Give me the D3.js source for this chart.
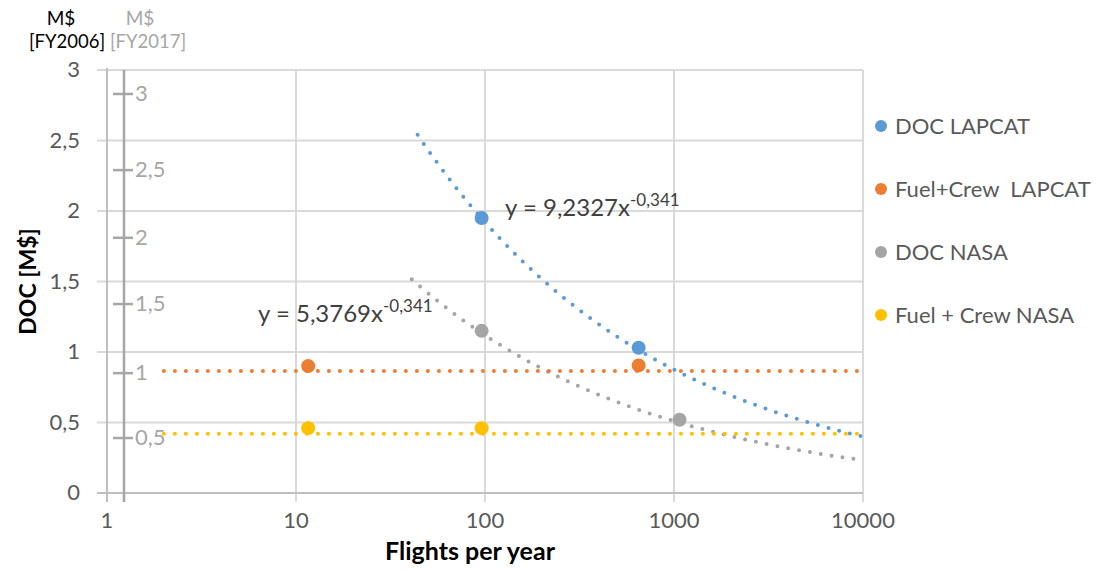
<!DOCTYPE html>
<html>
<head>
    <script src="https://cdn.jsdelivr.net/npm/d3@7"></script>
    <style>
        body { margin: 0; background: #fff; }
        svg { font-family: Lato, "Open Sans", sans-serif; }
    </style>
</head>
<body>
<svg id="chart" width="1099" height="571"></svg>
<script>
// series: flights per year (x) and DOC in M$ FY2006 (y)
const series = ["DOC LAPCAT", "Fuel+Crew  LAPCAT", "DOC NASA", "Fuel + Crew NASA"];
const colors = ["#5b9bd5", "#ed7d31", "#a5a5a5", "#ffc000"];
const docLapcatX = [96, 650];
const docLapcatY = [1.95, 1.03];
const fuelLapcatX = [11.6, 650];
const fuelLapcatY = [0.90, 0.905];
const docNasaX = [96, 1070];
const docNasaY = [1.15, 0.52];
const fuelNasaX = [11.6, 96];
const fuelNasaY = [0.46, 0.46];

// trendlines: power fits (coef, exponent, from x) and flat lines (level, from x)
const powerFits = [
    {s: 0, coef: 9.2327, exp: -0.341, from: 44, label: "y = 9,2327x", sup: "-0,341"},
    {s: 2, coef: 5.3769, exp: -0.341, from: 41, label: "y = 5,3769x", sup: "-0,341"}
];
const flatFits = [
    {s: 1, level: 0.865, from: 2},
    {s: 3, level: 0.42, from: 2}
];

const xTicks = [1, 10, 100, 1000, 10000];
const yTicks = [0, 0.5, 1, 1.5, 2, 2.5, 3];
// secondary FY2017 axis: labels and where they sit on the FY2006 scale
const secLabels = ["0,5", "1", "1,5", "2", "2,5", "3"];
const secAt = [0.39, 0.85, 1.34, 1.81, 2.29, 2.83];

const svg = d3.select("#chart");
const x = d3.scaleLog().domain([1, 10000]).range([107, 863]);
const y = d3.scaleLinear().domain([0, 3]).range([493, 70]);
const fmt = d => String(d).replace(".", ",");
const textColor = "#595959";

// grid
svg.append("g").selectAll("line").data(yTicks).enter().append("line")
    .attr("x1", 97).attr("x2", 863)
    .attr("y1", d => y(d)).attr("y2", d => y(d))
    .attr("stroke", "#d9d9d9").attr("stroke-width", 2);
svg.append("g").selectAll("line").data(xTicks.slice(1)).enter().append("line")
    .attr("x1", d => x(d)).attr("x2", d => x(d))
    .attr("y1", y(3)).attr("y2", 502)
    .attr("stroke", "#d9d9d9").attr("stroke-width", 2);

// axis lines
svg.append("line").attr("x1", 97).attr("x2", 863).attr("y1", y(0)).attr("y2", y(0))
    .attr("stroke", "#bfbfbf").attr("stroke-width", 2);
svg.append("line").attr("x1", x(1)).attr("x2", x(1)).attr("y1", y(3) - 2).attr("y2", 502)
    .attr("stroke", "#bfbfbf").attr("stroke-width", 2);

// primary y labels
svg.append("g").selectAll("text").data(yTicks).enter().append("text")
    .attr("x", 80).attr("y", d => y(d) + 7)
    .attr("text-anchor", "end").attr("font-size", 22).attr("fill", textColor)
    .text(fmt);

// x labels
svg.append("g").selectAll("text").data(xTicks).enter().append("text")
    .attr("x", d => x(d)).attr("y", 528)
    .attr("text-anchor", "middle").attr("font-size", 22).attr("fill", textColor)
    .text(d => d);

// secondary axis
svg.append("line").attr("x1", 124).attr("x2", 124).attr("y1", y(3)).attr("y2", 502)
    .attr("stroke", "#a6a6a6").attr("stroke-width", 2.5);
svg.append("g").selectAll("line").data(secAt).enter().append("line")
    .attr("x1", 113).attr("x2", 133)
    .attr("y1", d => y(d)).attr("y2", d => y(d))
    .attr("stroke", "#a6a6a6").attr("stroke-width", 2.5);
svg.append("g").selectAll("text").data(secAt).enter().append("text")
    .attr("x", 135).attr("y", d => y(d) + 7)
    .attr("font-size", 22).attr("fill", "#a6a6a6")
    .text((d, i) => secLabels[i]);

// units at top
svg.append("text").attr("x", 61).attr("y", 25).attr("text-anchor", "middle")
    .attr("font-size", 19).attr("fill", "#000").text("M$");
svg.append("text").attr("x", 67).attr("y", 48).attr("text-anchor", "middle")
    .attr("font-size", 18.5).attr("fill", "#000").text("[FY2006]");
svg.append("text").attr("x", 140).attr("y", 25).attr("text-anchor", "middle")
    .attr("font-size", 19).attr("fill", "#a6a6a6").text("M$");
svg.append("text").attr("x", 148).attr("y", 48).attr("text-anchor", "middle")
    .attr("font-size", 18.5).attr("fill", "#a6a6a6").text("[FY2017]");

// axis titles
svg.append("text").attr("transform", "translate(36," + y(1.5) + ") rotate(-90)")
    .attr("text-anchor", "middle").attr("font-size", 23).attr("font-weight", "bold")
    .attr("fill", "#000").text("DOC [M$]");
svg.append("text").attr("x", 470).attr("y", 560).attr("text-anchor", "middle")
    .attr("font-size", 25).attr("font-weight", "bold").attr("fill", "#000")
    .text("Flights per year");

// trendlines
const line = d3.line().x(d => x(d[0])).y(d => y(d[1]));
powerFits.forEach(f => {
    const xs = d3.range(0, 201).map(i => f.from * Math.pow(10000 / f.from, i / 200));
    svg.append("path").datum(xs.map(v => [v, f.coef * Math.pow(v, f.exp)]))
        .attr("d", line).attr("fill", "none")
        .attr("stroke", colors[f.s]).attr("stroke-width", 4)
        .attr("stroke-linecap", "round").attr("stroke-dasharray", "0 11");
});
flatFits.forEach(f => {
    svg.append("path").datum([[f.from, f.level], [10000, f.level]])
        .attr("d", line).attr("fill", "none")
        .attr("stroke", colors[f.s]).attr("stroke-width", 4)
        .attr("stroke-linecap", "round").attr("stroke-dasharray", "0 11");
});

// points
const pts = [
    [docLapcatX, docLapcatY], [fuelLapcatX, fuelLapcatY],
    [docNasaX, docNasaY], [fuelNasaX, fuelNasaY]
];
pts.forEach((p, s) => {
    svg.append("g").selectAll("circle").data(p[0]).enter().append("circle")
        .attr("cx", d => x(d)).attr("cy", (d, i) => y(p[1][i]))
        .attr("r", 7).attr("fill", colors[s]);
});

// equation labels
const eqPos = [[505, 216], [258, 322]];
powerFits.forEach((f, i) => {
    const t = svg.append("text").attr("x", eqPos[i][0]).attr("y", eqPos[i][1])
        .attr("font-size", 24).attr("fill", "#404040");
    t.append("tspan").text(f.label);
    t.append("tspan").attr("dy", -10).attr("font-size", 17).text(f.sup);
});

// legend
const lg = svg.append("g").selectAll("g").data(series).enter().append("g")
    .attr("transform", (d, i) => "translate(881," + (126 + i * 63) + ")");
lg.append("circle").attr("r", 6).attr("fill", (d, i) => colors[i]);
lg.append("text").attr("x", 14).attr("y", 8).attr("font-size", 22)
    .attr("fill", textColor).style("white-space", "pre").text(d => d);
</script>
</body>
</html>
